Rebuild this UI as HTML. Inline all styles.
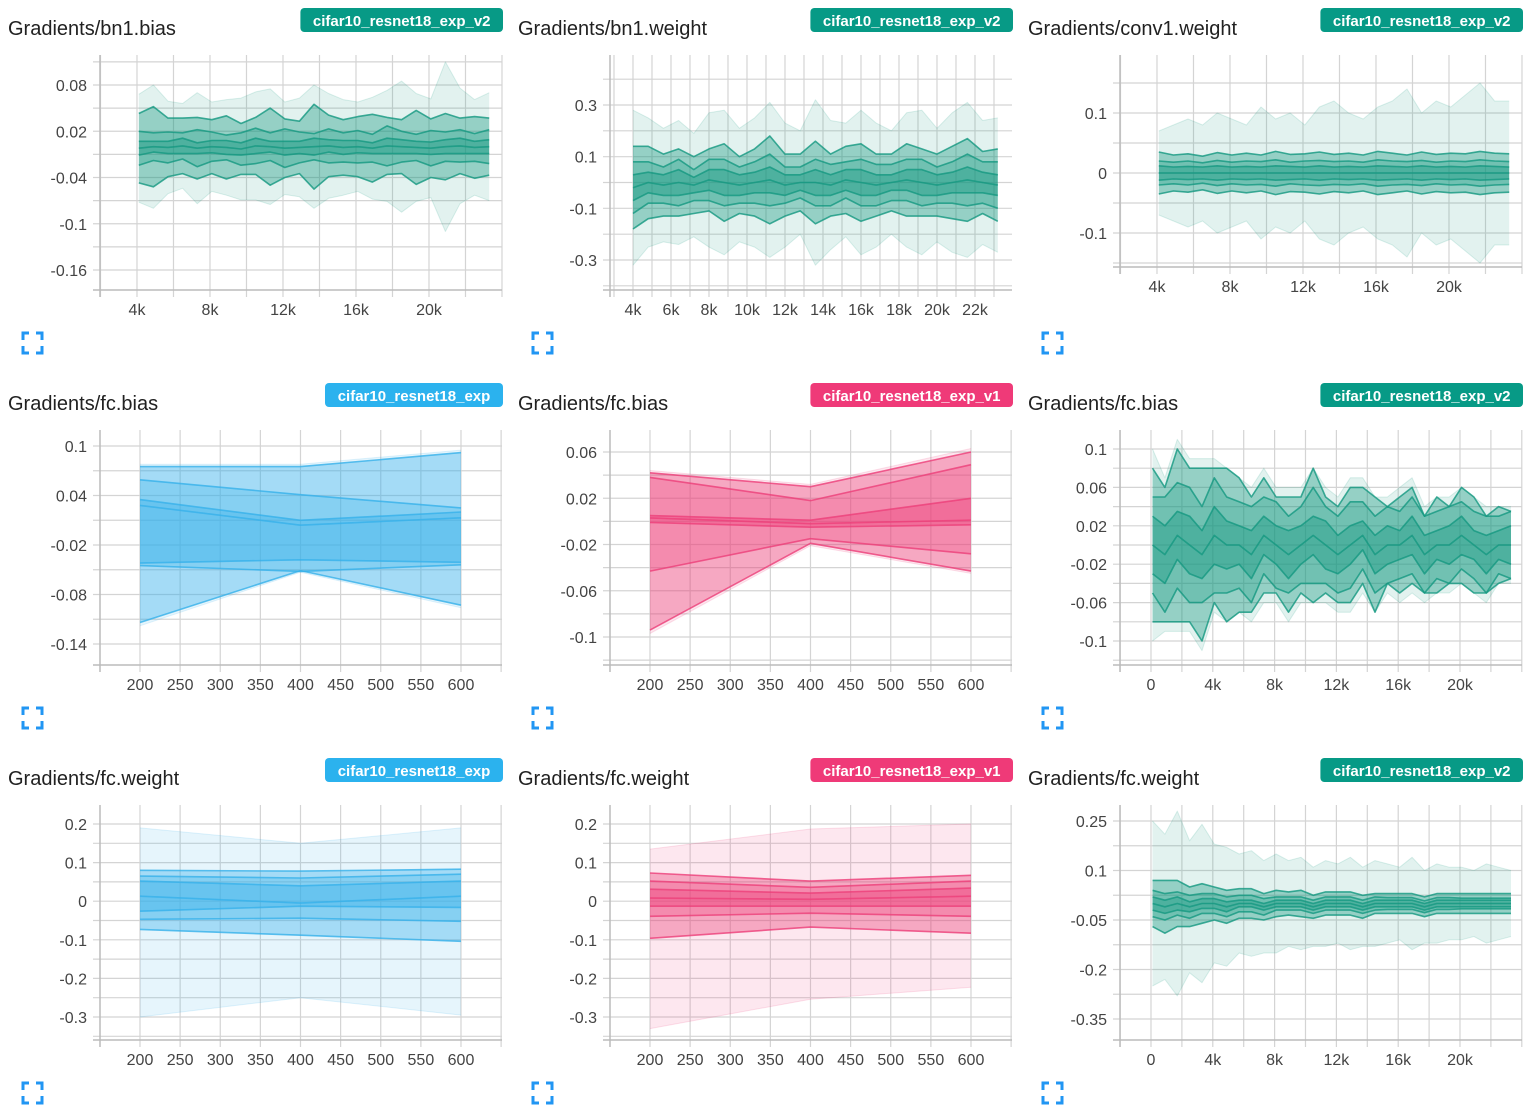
<!DOCTYPE html>
<html><head><meta charset="utf-8"><style>
html,body{margin:0;padding:0;background:#fff;width:1536px;height:1115px;overflow:hidden}
svg text{font-family:"Liberation Sans",sans-serif}
</style></head><body>
<svg id="root" xmlns="http://www.w3.org/2000/svg" width="1536" height="1115" viewBox="0 0 1536 1115"></svg>
<script>
// ---------- data ----------
const bn1BiasSteps=[4100,4900,5700,6500,7300,8100,8900,9700,10500,11300,12100,12900,13700,14500,15300,16100,16900,17700,18500,19300,20100,20900,21700,22500,23300];
const bn1BiasCenter=[-2,0,-1,1,-2,0,-1,-3,1,0,-2,-1,0,1,-1,0,-2,1,0,-1,-2,0,1,-1,0];
const bn1BiasA1=[9,7,8,10,7,8,9,8,10,7,9,8,11,8,9,8,7,10,9,8,8,9,10,8,9];
const bn1BiasA2=[22,18,20,17,24,19,16,21,23,18,25,20,17,22,19,21,18,26,20,17,23,19,21,18,22];
const bn1BiasA3=[45,52,38,36,40,35,41,33,37,50,38,34,55,40,36,39,44,37,35,48,38,43,36,40,37];
const bn1BiasA4=[70,80,60,55,72,58,62,66,70,75,60,64,80,68,62,58,66,72,85,70,64,110,75,62,70];

const bn1WeightSteps=[4000,4800,5600,6400,7200,8000,8800,9600,10400,11200,12000,12800,13600,14400,15200,16000,16800,17600,18400,19200,20000,20800,21600,22400,23200];
const bn1WeightCenter=[-2,0,-1,0,-1,1,0,-1,0,1,-1,0,0,-1,1,0,-1,0,1,0,-1,0,1,0,-1];
const bn1WeightA1=[5,4,4,5,3,4,5,4,4,5,4,3,5,4,4,5,4,3,4,5,4,4,5,4,4];
const bn1WeightA2=[10,8,7,9,6,8,9,7,8,10,7,6,9,8,7,9,8,7,8,9,7,8,10,8,9];
const bn1WeightA3=[16,14,12,13,11,12,15,11,13,17,12,11,16,12,13,15,12,11,14,13,12,14,16,12,14];
const bn1WeightA4=[30,25,22,24,20,26,28,22,25,30,24,20,32,25,22,28,24,20,26,28,22,27,30,24,26];

const conv1Steps=[4100,4900,5700,6500,7300,8100,8900,9700,10500,11300,12100,12900,13700,14500,15300,16100,16900,17700,18500,19300,20100,20900,21700,22500,23300];
const conv1Center=[0,0,0,0,0,0,0,0,0,0,0,0,0,0,0,0,0,0,0,0,0,0,0,0,0];
const conv1A1=[1.2,1,1.1,1,1.2,1,1.1,1,1.2,1.1,1,1.2,1,1.1,1,1.2,1.1,1,1.2,1,1.1,1,1.2,1.1,1];
const conv1A2=[2,1.8,2,1.7,2.1,1.8,2,1.9,2.2,1.8,2,2.1,1.9,2,1.8,2.2,2,1.9,2.1,1.8,2,1.9,2.2,2,1.9];
const conv1A3=[3.5,3,3.2,2.8,3.4,3,3.3,3,3.6,3.1,3.2,3.5,3.1,3.3,3,3.6,3.3,3,3.5,3.1,3.3,3.2,3.6,3.3,3.2];
const conv1A4=[7,8,9,8,10,9,8,11,9,10,8,11,12,10,9,11,12,14,10,12,11,13,15,12,12];

const fcV2Steps=[100,900,1700,2500,3300,4100,4900,5700,6500,7300,8100,8900,9700,10500,11300,12100,12900,13700,14500,15300,16100,16900,17700,18500,19300,20100,20900,21700,22500,23300];
const fcBiasV2Center=[0,-1,1,0,-1,1,0,0,-1,1,0,-1,0,1,0,-1,0,1,-1,0,0,1,-1,0,0,1,0,-1,0,0];
const fcBiasV2A1=[3,3,2.5,3,2.5,3,2.5,2,2.5,2,2,2.5,2,2,2.5,2,2,1.5,2,2,1.5,2,2,1.5,2,2,1.5,2,1.5,2];
const fcBiasV2A2=[5,6,5.5,6,5,6,5,4.5,5,4,4.5,4,4,5,4,4,4.5,3.5,4,4,3.5,4,4,3.5,4,3.5,3.5,4,3,3.5];
const fcBiasV2A3=[8,7,9,8,9,7,8,7,6,6,5,6,5,7,5,5,6,5,6,4,5,5,4,5,4,5,5,4,4,3.5];
const fcBiasV2A4=[10,8,10,9,10,8,8,7,7,7,6,7,6,7,6,6,7,6,6,5,6,6,5,5,5,5,5,5,4,4];

const fcWeightV2Center=[0,-1,0,-1,0,0,-1,0,0,-1,0,0,0,-1,0,0,0,-1,0,0,0,0,-1,0,0,0,0,0,0,0];
const fcWeightV2A1=[2,2,2,1.5,1.5,1.5,1.5,1,1,1,1,1,1,1,1,1,1,1,1,1,1,1,1,1,1,1,1,1,1,1];
const fcWeightV2A2=[4,4,3.5,3.5,3,3,3,2.5,2.5,2.5,2,2,2,2,2,2,2,2,2,1.8,1.8,1.8,1.8,1.8,1.8,1.6,1.6,1.6,1.6,1.6];
const fcWeightV2A3=[7,8,7,6,6,5,5,4.5,4.5,4,4,3.5,4,3.5,3.5,3.5,3.5,3.5,3,3,3,3,3,3,3,3,3,3,3,3];
const fcWeightV2A4=[25,22,28,20,24,18,18,15,16,14,15,13,14,12,13,12,14,12,13,12,11,14,11,12,11,11,10,12,11,10];

const shortSteps=[200,400,600];
// quantile rows: max ... min, each value per step
const fcBiasExpQ=[[0.078,0.078,0.095],[0.075,0.075,0.092],[0.059,0.041,0.025],[0.035,0.010,0.020],[0.028,0.004,0.013],[-0.042,-0.038,-0.041],[-0.045,-0.052,-0.044],[-0.114,-0.051,-0.093],[-0.118,-0.053,-0.096]];
const fcBiasV1Q=[[0.044,0.032,0.063],[0.042,0.030,0.060],[0.038,0.018,0.049],[0.005,0.001,0.020],[0.003,-0.002,0.001],[-0.001,-0.005,-0.003],[-0.043,-0.015,-0.028],[-0.094,-0.019,-0.043],[-0.097,-0.021,-0.045]];
const fcWeightExpQ=[[0.19,0.15,0.19],[0.08,0.078,0.083],[0.065,0.06,0.07],[0.052,0.04,0.052],[0.013,-0.005,0.013],[-0.026,-0.013,-0.016],[-0.047,-0.044,-0.052],[-0.073,-0.088,-0.104],[-0.30,-0.25,-0.295]];
const fcWeightV1Q=[[0.135,0.187,0.2],[0.073,0.052,0.067],[0.052,0.036,0.052],[0.031,0.021,0.034],[0.008,0.005,0.013],[-0.013,-0.013,-0.013],[-0.039,-0.031,-0.039],[-0.096,-0.067,-0.083],[-0.33,-0.254,-0.223]];

const tealC='#13977f', blueC='#35b0ea', pinkC='#ec3d78';
const badgeTeal='#079a86', badgeBlue='#2bb2ee', badgePink='#ef3a78';

function noisy(c,a1,a2,a3,a4,u){
  const q=[[],[],[],[],[],[],[],[],[]];
  for(let i=0;i<c.length;i++){
    const m=c[i];
    [m+a4[i],m+a3[i],m+a2[i],m+a1[i],m,m-a1[i],m-a2[i],m-a3[i],m-a4[i]].forEach((v,k)=>q[k].push(v*u));
  }
  return q;
}
const kFmt=v=>v===0?'0':(v/1000)+'k';
const charts=[
 {name:'bn1-bias',title:'Gradients/bn1.bias',run:'cifar10_resnet18_exp_v2',badge:badgeTeal,color:tealC,col:0,row:0,B:290,
  steps:bn1BiasSteps,q:noisy(bn1BiasCenter,bn1BiasA1,bn1BiasA2,bn1BiasA3,bn1BiasA4,0.001),
  xr:[4000,137,20000,429],xt:[4000,8000,12000,16000,20000],xs:2000,xf:kFmt,
  yr:[0.08,85,-0.16,270],yt:[0.08,0.02,-0.04,-0.1,-0.16],ys:0.03},
 {name:'bn1-weight',title:'Gradients/bn1.weight',run:'cifar10_resnet18_exp_v2',badge:badgeTeal,color:tealC,col:1,row:0,B:290,
  steps:bn1WeightSteps,q:noisy(bn1WeightCenter,bn1WeightA1,bn1WeightA2,bn1WeightA3,bn1WeightA4,0.01),
  xr:[4000,123,22000,465],xt:[4000,6000,8000,10000,12000,14000,16000,18000,20000,22000],xs:1000,xf:kFmt,
  yr:[0.3,105,-0.3,260],yt:[0.3,0.1,-0.1,-0.3],ys:0.1},
 {name:'conv1-weight',title:'Gradients/conv1.weight',run:'cifar10_resnet18_exp_v2',badge:badgeTeal,color:tealC,col:2,row:0,B:267,
  steps:conv1Steps,q:noisy(conv1Center,conv1A1,conv1A2,conv1A3,conv1A4,0.01),
  xr:[4000,137,20000,429],xt:[4000,8000,12000,16000,20000],xs:2000,xf:kFmt,
  yr:[0.1,113,-0.1,233],yt:[0.1,0,-0.1],ys:0.05},
 {name:'fc-bias-exp',title:'Gradients/fc.bias',run:'cifar10_resnet18_exp',badge:badgeBlue,color:blueC,col:0,row:1,B:290,
  steps:shortSteps,q:fcBiasExpQ,
  xr:[200,140,600,461],xt:[200,250,300,350,400,450,500,550,600],xs:50,xf:v=>''+v,
  yr:[0.1,71,-0.14,269],yt:[0.1,0.04,-0.02,-0.08,-0.14],ys:0.03},
 {name:'fc-bias-v1',title:'Gradients/fc.bias',run:'cifar10_resnet18_exp_v1',badge:badgePink,color:pinkC,col:1,row:1,B:290,
  steps:shortSteps,q:fcBiasV1Q,
  xr:[200,140,600,461],xt:[200,250,300,350,400,450,500,550,600],xs:50,xf:v=>''+v,
  yr:[0.06,77,-0.1,262],yt:[0.06,0.02,-0.02,-0.06,-0.1],ys:0.02},
 {name:'fc-bias-v2',title:'Gradients/fc.bias',run:'cifar10_resnet18_exp_v2',badge:badgeTeal,color:tealC,col:2,row:1,B:290,
  steps:fcV2Steps,q:noisy(fcBiasV2Center,fcBiasV2A1,fcBiasV2A2,fcBiasV2A3,fcBiasV2A4,0.01),
  xr:[0,131,20000,440],xt:[0,4000,8000,12000,16000,20000],xs:2000,xf:kFmt,
  yr:[0.1,74,-0.1,266],yt:[0.1,0.06,0.02,-0.02,-0.06,-0.1],ys:0.02},
 {name:'fc-weight-exp',title:'Gradients/fc.weight',run:'cifar10_resnet18_exp',badge:badgeBlue,color:blueC,col:0,row:2,B:290,
  steps:shortSteps,q:fcWeightExpQ,
  xr:[200,140,600,461],xt:[200,250,300,350,400,450,500,550,600],xs:50,xf:v=>''+v,
  yr:[0.2,74,-0.3,267],yt:[0.2,0.1,0,-0.1,-0.2,-0.3],ys:0.05},
 {name:'fc-weight-v1',title:'Gradients/fc.weight',run:'cifar10_resnet18_exp_v1',badge:badgePink,color:pinkC,col:1,row:2,B:290,
  steps:shortSteps,q:fcWeightV1Q,
  xr:[200,140,600,461],xt:[200,250,300,350,400,450,500,550,600],xs:50,xf:v=>''+v,
  yr:[0.2,74,-0.3,267],yt:[0.2,0.1,0,-0.1,-0.2,-0.3],ys:0.05},
 {name:'fc-weight-v2',title:'Gradients/fc.weight',run:'cifar10_resnet18_exp_v2',badge:badgeTeal,color:tealC,col:2,row:2,B:290,
  steps:fcV2Steps,q:noisy(fcWeightV2Center,fcWeightV2A1,fcWeightV2A2,fcWeightV2A3,fcWeightV2A4,0.01),
  xr:[0,131,20000,440],xt:[0,4000,8000,12000,16000,20000],xs:2000,xf:kFmt,
  yr:[0.25,71,-0.35,269],yt:[0.25,0.1,-0.05,-0.2,-0.35],ys:0.075}
];
// ---------- render ----------
const NS='http://www.w3.org/2000/svg';
const root=document.getElementById('root');
function el(tag,attrs,parent){const e=document.createElementNS(NS,tag);for(const k in attrs)e.setAttribute(k,attrs[k]);(parent||root).appendChild(e);return e;}
function lin(v1,p1,v2,p2){const k=(p2-p1)/(v2-v1);const f=v=>p1+(v-v1)*k;f.inv=p=>v1+(p-p1)/k;return f;}
const bandOp=[0.12,0.45,0.6,0.75,0.75,0.6,0.45,0.12];
charts.forEach(c=>{
  const g=el('g',{transform:`translate(${c.col*510},${c.row*375})`});
  
  
  const L=100,R=502,T=55,B=c.B;
  const x=lin(...c.xr), y=lin(...c.yr);
  const t=el('text',{x:8,y:35,'font-size':20,fill:'#212121'},g);t.textContent=c.title;
  
  const bw=c.run.length*8.2+14;
  const bg=el('g',{},g);
  
  el('rect',{x:503-bw,y:8,width:bw,height:24,rx:4,fill:c.badge},bg);
  const bt=el('text',{x:503-bw/2,y:26,'font-size':15,'font-weight':'bold',fill:'#fff','text-anchor':'middle'},bg);bt.textContent=c.run;
  // grid
  const grid=el('g',{stroke:'#d4d4d4','stroke-width':1.2},g);
  
  const yLo=y.inv(B),yHi=y.inv(T);
  const y0=c.yt[0];
  for(let k=-40;k<=40;k++){const v=y0+k*c.ys;if(v<yLo-1e-9||v>yHi+1e-9)continue;const py=y(v);el('line',{x1:L-7,x2:R,y1:py,y2:py},grid);}
  const xLo=x.inv(L),xHi=x.inv(R);
  for(let k=-60;k<=60;k++){const v=c.xt[0]+k*c.xs;if(v<xLo-1e-6||v>xHi+1e-6)continue;const px=x(v);el('line',{x1:px,x2:px,y1:T,y2:B+7},grid);}
  el('line',{x1:L,x2:L,y1:T,y2:B+7,stroke:'#bbb','stroke-width':1.5},g);
  el('line',{x1:L-7,x2:R,y1:B,y2:B,stroke:'#bbb','stroke-width':1.5},g);
  c.yt.forEach(v=>{const tt=el('text',{x:87,y:y(v)+6,'font-size':16,fill:'#444','text-anchor':'end'},g);tt.textContent=(''+v);
    });
  c.xt.forEach(v=>{const tt=el('text',{x:x(v),y:B+25,'font-size':16,fill:'#444','text-anchor':'middle'},g);tt.textContent=c.xf(v);
    });
  // bands
  const dg=el('g',{},g);
  
  const pts=k=>c.steps.map((s,i)=>x(s).toFixed(1)+','+y(c.q[k][i]).toFixed(1));
  for(let k=0;k<8;k++){
    const p=pts(k).concat(pts(k+1).reverse()).join(' ');
    const poly=el('polygon',{points:p,fill:c.color,'fill-opacity':bandOp[k]},dg);
    
    
  }
  for(let k=0;k<9;k++){
    const edge=(k===0||k===8);
    const pl=el('polyline',{points:pts(k).join(' '),fill:'none',stroke:c.color,'stroke-opacity':edge?0.15:0.8,'stroke-width':edge?1:1.6,'stroke-linejoin':'round'},dg);
    
    
  }
  // expand icon
  const ic=el('g',{fill:'none',stroke:'#2196f3','stroke-width':3},g);
  
  const ey=333;
  el('path',{d:`M23 ${ey+7}V${ey}H29 M36 ${ey}H42V${ey+7} M42 ${ey+13}V${ey+20}H36 M29 ${ey+20}H23V${ey+13}`},ic);
});
</script>
</body></html>
